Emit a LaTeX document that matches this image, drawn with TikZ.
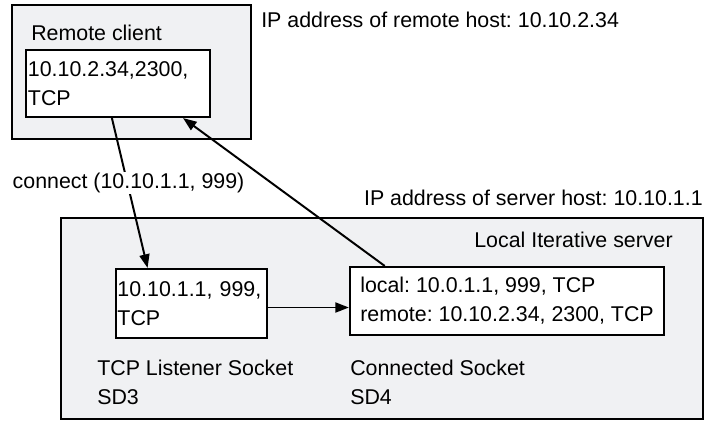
\documentclass[tikz,border=0pt]{standalone}
\usepackage{fontspec}
\setmainfont{Liberation Sans}
\usetikzlibrary{arrows.meta}

\definecolor{hostgray}{RGB}{240,241,243}
\frenchspacing

\begin{document}
\begin{tikzpicture}[x=0.025cm,y=-0.025cm,
	font=\fontsize{15.2}{20.5}\selectfont,
	hostbox/.style={draw,fill=hostgray,line width=1.5pt,inner sep=0pt},
	sockbox/.style={draw,fill=white,line width=1.5pt,align=left},
	lbl/.style={anchor=west,inner sep=0pt},
	arr/.style={-{Triangle[length=3.4mm,width=2.5mm]},line width=1.4pt}]
	\useasboundingbox (0,0) rectangle (706,421);
	
	% Draw host boxes
	\node[hostbox,minimum width=5.975cm,minimum height=3.35cm] (remote) at (131.5,72) {};
	\node[hostbox,minimum width=16.05cm,minimum height=5.025cm] (server) at (382,318.5) {};
	
	% Draw socket boxes
	\node[sockbox,minimum width=4.6cm,minimum height=1.675cm,text width=4.5cm,inner sep=1pt] (client) at (118,83.5) {10.10.2.34,2300,\\TCP};
	\node[sockbox,minimum width=3.775cm,minimum height=1.725cm,text width=3.7cm,inner sep=1pt] (listener) at (191.5,303.5) {10.10.1.1, 999,\\TCP};
	\node[sockbox,minimum width=7.85cm,minimum height=1.7cm] (connected) at (507,301) {local: 10.0.1.1, 999, TCP\\remote: 10.10.2.34, 2300, TCP};
	
	% Label hosts
	\node[lbl] (remotename) at (31,33) {Remote client};
	\node[lbl] (remoteip) at (261,20) {IP address of remote host: 10.10.2.34};
	\node[lbl,anchor=east] (serverip) at (703,198) {IP address of server host: 10.10.1.1};
	\node[lbl,anchor=east] (servername) at (673,240) {Local Iterative server};
	
	% Label sockets
	\node[lbl,align=left] (sd3) at (97,382) {TCP Listener Socket\\SD3};
	\node[lbl,align=left] (sd4) at (350,382) {Connected Socket\\SD4};
	
	% Draw connections
	\draw[arr] (client.-100) -- (listener.141);
	\draw[arr] (listener.-3.4) -- (listener.-3.4 -| connected.west);
	\draw[arr] (connected.164) -- (client.-28);
	
	% Label connect call over the line
	\node[lbl,fill=white,inner sep=1pt] (connectcall) at (11,183) {connect (10.10.1.1, 999)};
\end{tikzpicture}
\end{document}
